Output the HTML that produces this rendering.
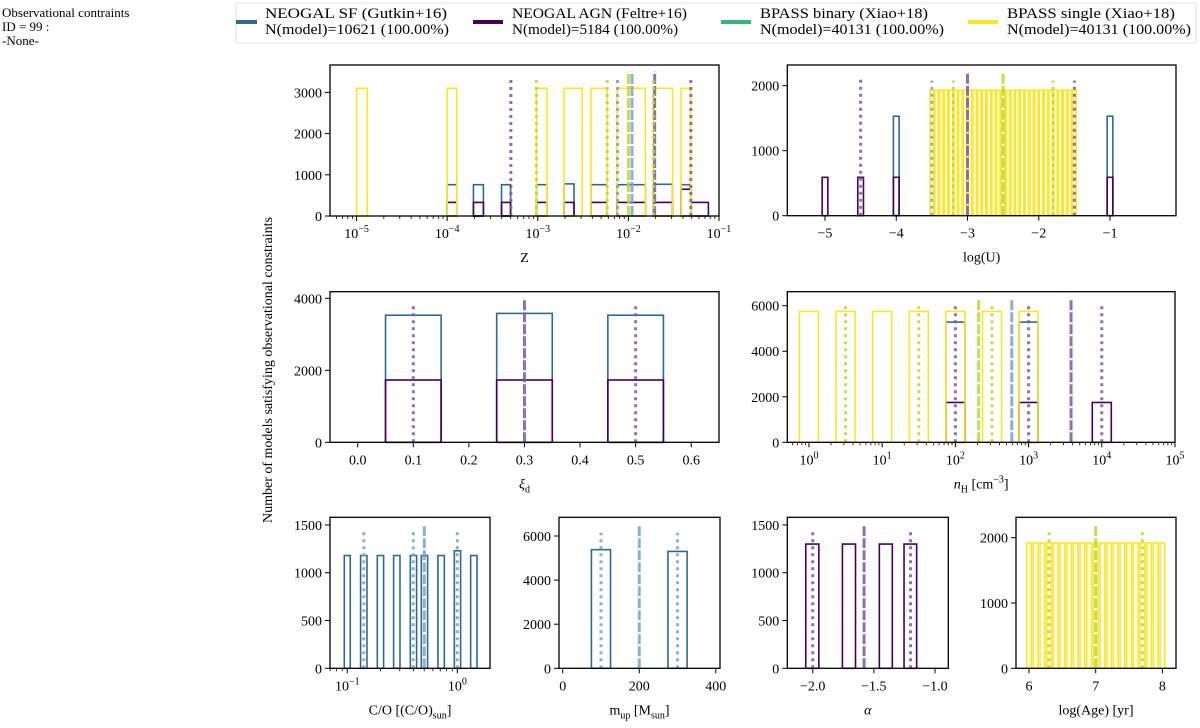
<!DOCTYPE html>
<html><head><meta charset="utf-8"><style>
body{margin:0;background:#fff;}
svg{display:block;font-family:"Liberation Serif",serif;}
</style></head><body>
<svg id="fig" width="1200" height="728" viewBox="0 0 1200 728">
<g font-size="13">
<text x="2" y="17">Observational contraints</text>
<text x="2" y="31">ID = 99 :</text>
<text x="2" y="45">-None-</text>
</g>
<g font-size="14.5">
<rect x="236" y="3" width="960" height="40" fill="#fff" stroke="#e0e0e0"/>
<g><rect x="236" y="20" width="21" height="4" fill="#31688e"/><text x="265" y="18" textLength="182" lengthAdjust="spacingAndGlyphs">NEOGAL SF (Gutkin+16)</text><text x="265" y="34" textLength="184" lengthAdjust="spacingAndGlyphs">N(model)=10621 (100.00%)</text></g>
<g><rect x="473" y="20" width="30" height="4" fill="#440154"/><text x="512" y="18" textLength="175" lengthAdjust="spacingAndGlyphs">NEOGAL AGN (Feltre+16)</text><text x="512" y="34" textLength="166" lengthAdjust="spacingAndGlyphs">N(model)=5184 (100.00%)</text></g>
<g><rect x="721" y="20" width="30" height="4" fill="#35b779"/><text x="760" y="18" textLength="168" lengthAdjust="spacingAndGlyphs">BPASS binary (Xiao+18)</text><text x="760" y="34" textLength="184" lengthAdjust="spacingAndGlyphs">N(model)=40131 (100.00%)</text></g>
<g><rect x="968" y="20" width="30" height="4" fill="#fde725"/><text x="1007" y="18" textLength="168" lengthAdjust="spacingAndGlyphs">BPASS single (Xiao+18)</text><text x="1007" y="34" textLength="184" lengthAdjust="spacingAndGlyphs">N(model)=40131 (100.00%)</text></g>
</g>
<text transform="translate(272,370) rotate(-90)" text-anchor="middle" font-size="14">Number of models satisfying observational constraints</text>
</svg>
<script>
// ---- data arrays (x edges in data units; log10 for log axes) ----
const zSingleEdges=[[-5,-4.883],[-4,-3.894],[-3.015,-2.90],[-2.71,-2.51],[-2.414,-2.234],[-2.125,-1.813],[-1.722,-1.513],[-1.418,-1.311]];
const zSingleH=[3100,3100,3100,3100,3100,3100,3100,3100];
const zSfEdges=[[-4,-3.894],[-3.71,-3.60],[-3.40,-3.30],[-3.015,-2.90],[-2.71,-2.60],[-2.414,-2.234],[-2.125,-1.813],[-1.722,-1.513],[-1.418,-1.311]];
const zSfH=[760,760,760,760,780,760,760,770,760];
const zAgnEdges=[[-4,-3.894],[-3.71,-3.60],[-3.40,-3.30],[-3.015,-2.90],[-2.71,-2.60],[-2.414,-2.234],[-2.125,-1.813],[-1.722,-1.513],[-1.418,-1.311],[-1.311,-1.117]];
const zAgnH=[330,330,330,330,330,330,330,330,650,330];
const zLinesX=[-3.297,-3.015,-2.234,-2.12,-2.0,-1.96,-1.71,-1.722,-1.311];
const zLinesTop=[3350,3350,3350,3350,3500,3500,3500,3350,3350];
const zLinesKind=['ad','bd','bd','sd','b-','s-','a-','bd','ad'];

const uAgnEdges=[[-5.04,-4.96],[-4.54,-4.46],[-4.04,-3.96],[-1.04,-0.96]];
const uAgnH=[590,590,590,590];
const uSfEdges=[[-4.04,-3.96],[-1.04,-0.96]];
const uSfH=[1530,1530];
const uSingleCenters=[-3.5,-3.433,-3.367,-3.3,-3.233,-3.167,-3.1,-3.033,-2.967,-2.9,-2.833,-2.767,-2.7,-2.633,-2.567,-2.5,-2.433,-2.367,-2.3,-2.233,-2.167,-2.1,-2.033,-1.967,-1.9,-1.833,-1.767,-1.7,-1.633,-1.567,-1.5];
const uSingleH=uSingleCenters.map(()=>1930);
const uLinesX=[-4.5,-3.5,-3.2,-3.0,-2.5,-1.8,-1.5];
const uLinesTop=[2100,2080,2080,2200,2200,2080,2080];
const uLinesKind=['ad','sd','bd','a-','b-','bd','ad'];

const xiEdges=[[0.05,0.15],[0.25,0.35],[0.45,0.55]];
const xiSfH=[3530,3580,3530];
const xiAgnH=[1730,1730,1730];
const xiLinesX=[0.1,0.3,0.5];
const xiLinesTop=[3800,4000,3800];
const xiLinesKind=['ad','a-','ad'];

const nhSingleCenters=[0,0.5,1,1.5,2,2.5,3];
const nhSingleH=[5750,5750,5750,5750,5750,5750,5750];
const nhSfCenters=[2,3];
const nhSfH=[5280,5280];
const nhAgnCenters=[2,3,4];
const nhAgnH=[1750,1750,1750];
const nhLinesX=[0.5,1.5,2.5,2,3,4,2.318,2.77,3.58];
const nhLinesTop=[6000,6000,6000,6000,6000,6000,6300,6300,6300];
const nhLinesKind=['bd','bd','bd','ad','ad','ad','b-','s-','a-'];

const coEdges=[[-1.027,-0.973],[-0.879,-0.821],[-0.727,-0.670],[-0.579,-0.521],[-0.427,-0.370],[-0.327,-0.270],[-0.176,-0.118],[-0.027,0.030],[0.121,0.179]];
const coSfH=[1180,1180,1180,1180,1180,1180,1180,1230,1180];
const coLinesX=[-0.85,-0.4,0.0,-0.3];
const coLinesTop=[1430,1430,1430,1500];
const coLinesKind=['sd','sd','sd','s-'];

const mupEdges=[[75,125],[275,325]];
const mupSfH=[5380,5300];
const mupLinesX=[100,300,200];
const mupLinesTop=[6150,6150,6500];
const mupLinesKind=['sd','sd','s-'];

const alphaEdges=[[-2.057,-1.95],[-1.757,-1.65],[-1.455,-1.349],[-1.253,-1.15]];
const alphaAgnH=[1300,1300,1300,1300];
const alphaLinesX=[-2.0,-1.2,-1.58];
const alphaLinesTop=[1430,1430,1500];
const alphaLinesKind=['ad','ad','a-'];

const ageCenters=[6,6.1,6.2,6.3,6.4,6.5,6.6,6.7,6.8,6.9,7,7.1,7.2,7.3,7.4,7.5,7.6,7.7,7.8,7.9,8];
const ageSingleH=ageCenters.map(()=>1920);
const ageLinesX=[6.3,7.7,7.0];
const ageLinesTop=[2100,2100,2200];
const ageLinesKind=['bd','bd','b-'];

// ---- drawing ----
const NS='http://www.w3.org/2000/svg';
const svg=document.getElementById('fig');
const COL={s:'#31688e',a:'#440154',b:'#35b779',y:'#fde725'};
const LCOL={s:'#7ea1c0',a:'#7a5a9c',b:'#b5d83a'};
function mk(tag,attrs,parent){const e=document.createElementNS(NS,tag);for(const k in attrs)e.setAttribute(k,attrs[k]);(parent||svg).appendChild(e);return e;}
function cen(cs,hw){return cs.map(c=>[c-hw,c+hw]);}

function panel(P){
  const g=mk('g',{});
  
  
  const sx=v=>P.x0+(v-P.xmin)/(P.xmax-P.xmin)*(P.x1-P.x0);
  const sy=v=>P.y1-v/P.ymax*(P.y1-P.y0);
  P.series.forEach(s=>{
    const sg=mk('g',{},g);
    
    
    s.edges.forEach((e,i)=>{
      const x=sx(e[0]),w=sx(e[1])-sx(e[0]),y=sy(s.h[i]);
      const r=mk('rect',{x:x,y:y,width:w,height:P.y1-y,fill:'none',stroke:COL[s.id],'stroke-width':1.6},sg);
      
      
    });
  });
  P.lx.forEach((v,i)=>{
    const k=P.lk[i];const dashed=k[1]==='-';
    const l=mk('line',{x1:sx(v),x2:sx(v),y1:P.y1,y2:sy(P.lt[i]),stroke:LCOL[k[0]],'stroke-width':3,'stroke-opacity':0.85,'stroke-dasharray':dashed?'10,2':'3,4'},g);
    
    
  });
  const f=mk('rect',{x:P.x0,y:P.y0,width:P.x1-P.x0,height:P.y1-P.y0,fill:'none',stroke:'#000','stroke-width':1.3},g);
  
  
  const xa=mk('g',{},g);
  
  
  P.xt.forEach((v,i)=>{
    const x=sx(v);
    mk('line',{x1:x,x2:x,y1:P.y1,y2:P.y1+5,stroke:'#000','stroke-width':1},xa);
    const t=mk('text',{x:x,y:P.y1+22,'text-anchor':'middle','font-size':14},xa);
    if(P.log){t.textContent='10';const sp=mk('tspan',{dy:-6,'font-size':10},t);sp.textContent=P.xtl[i];}
    else t.textContent=P.xtl[i];
  });
  if(P.log){
    for(let d=Math.floor(P.xmin);d<Math.ceil(P.xmax);d++){
      for(let m=2;m<10;m++){const v=d+Math.log10(m);if(v>P.xmin&&v<P.xmax){const x=sx(v);mk('line',{x1:x,x2:x,y1:P.y1,y2:P.y1+3,stroke:'#000','stroke-width':0.8},xa);}}
    }
  }
  const xl=mk('text',{x:(P.x0+P.x1)/2,y:P.y1+46,'text-anchor':'middle','font-size':14},g);
  xl.innerHTML=P.xlabel;
  
  
  const ya=mk('g',{},g);
  
  
  P.yt.forEach(v=>{
    const y=sy(v);
    mk('line',{x1:P.x0-5,x2:P.x0,y1:y,y2:y,stroke:'#000','stroke-width':1},ya);
    const t=mk('text',{x:P.x0-8,y:y+5,'text-anchor':'end','font-size':14},ya);t.textContent=v;
  });
}

panel({name:'z',x0:330,x1:719,y0:65,y1:216,xmin:-5.293,xmax:-1,ymax:3665,log:true,
  xt:[-5,-4,-3,-2,-1],xtl:['\u22125','\u22124','\u22123','\u22122','\u22121'],yt:[0,1000,2000,3000],xlabel:'Z',
  series:[{id:'s',edges:zSfEdges,h:zSfH},{id:'a',edges:zAgnEdges,h:zAgnH},{id:'y',edges:zSingleEdges,h:zSingleH}],
  lx:zLinesX,lt:zLinesTop,lk:zLinesKind});
panel({name:'logu',x0:787.3,x1:1176,y0:65,y1:215.7,xmin:-5.529,xmax:-0.074,ymax:2318,log:false,
  xt:[-5,-4,-3,-2,-1],xtl:['\u22125','\u22124','\u22123','\u22122','\u22121'],yt:[0,1000,2000],xlabel:'log(U)',
  series:[{id:'s',edges:uSfEdges,h:uSfH},{id:'a',edges:uAgnEdges,h:uAgnH},{id:'y',edges:cen(uSingleCenters,0.024),h:uSingleH}],
  lx:uLinesX,lt:uLinesTop,lk:uLinesKind});
panel({name:'xi',x0:330,x1:719,y0:291.7,y1:442.3,xmin:-0.0499,xmax:0.650,ymax:4183,log:false,
  xt:[0,0.1,0.2,0.3,0.4,0.5,0.6],xtl:['0.0','0.1','0.2','0.3','0.4','0.5','0.6'],yt:[0,2000,4000],xlabel:'<tspan font-style="italic">ξ</tspan><tspan font-size="10" dy="4">d</tspan>',
  series:[{id:'s',edges:xiEdges,h:xiSfH},{id:'a',edges:xiEdges,h:xiAgnH}],
  lx:xiLinesX,lt:xiLinesTop,lk:xiLinesKind});
panel({name:'nh',x0:787.3,x1:1175,y0:291.7,y1:442.3,xmin:-0.296,xmax:5,ymax:6615,log:true,
  xt:[0,1,2,3,4,5],xtl:['0','1','2','3','4','5'],yt:[0,2000,4000,6000],xlabel:'<tspan font-style="italic">n</tspan><tspan font-size="10" dy="4">H</tspan><tspan dy="-4"> [cm</tspan><tspan font-size="10" dy="-6">−3</tspan><tspan dy="6">]</tspan>',
  series:[{id:'s',edges:cen(nhSfCenters,0.13),h:nhSfH},{id:'a',edges:cen(nhAgnCenters,0.13),h:nhAgnH},{id:'y',edges:cen(nhSingleCenters,0.13),h:nhSingleH}],
  lx:nhLinesX,lt:nhLinesTop,lk:nhLinesKind});
panel({name:'co',x0:330,x1:490,y0:517.3,y1:668.3,xmin:-1.157,xmax:0.297,ymax:1580,log:true,
  xt:[-1,0],xtl:['\u22121','0'],yt:[0,500,1000,1500],xlabel:'C/O [(C/O)<tspan font-size="10" dy="4">sun</tspan><tspan dy="-4">]</tspan>',
  series:[{id:'s',edges:coEdges,h:coSfH}],
  lx:coLinesX,lt:coLinesTop,lk:coLinesKind});
panel({name:'mup',x0:559,x1:720,y0:517.3,y1:668.3,xmin:-9.7,xmax:411,ymax:6848,log:false,
  xt:[0,200,400],xtl:['0','200','400'],yt:[0,2000,4000,6000],xlabel:'m<tspan font-size="10" dy="4">up</tspan><tspan dy="-4"> [M</tspan><tspan font-size="10" dy="4">sun</tspan><tspan dy="-4">]</tspan>',
  series:[{id:'s',edges:mupEdges,h:mupSfH}],
  lx:mupLinesX,lt:mupLinesTop,lk:mupLinesKind});
panel({name:'alpha',x0:787.3,x1:948.3,y0:517.3,y1:668.3,xmin:-2.208,xmax:-0.891,ymax:1580,log:false,
  xt:[-2,-1.5,-1],xtl:['\u22122.0','\u22121.5','\u22121.0'],yt:[0,500,1000,1500],xlabel:'<tspan font-style="italic">α</tspan>',
  series:[{id:'a',edges:alphaEdges,h:alphaAgnH}],
  lx:alphaLinesX,lt:alphaLinesTop,lk:alphaLinesKind});
panel({name:'age',x0:1016,x1:1176,y0:517.3,y1:668.3,xmin:5.805,xmax:8.204,ymax:2312,log:false,
  xt:[6,7,8],xtl:['6','7','8'],yt:[0,1000,2000],xlabel:'log(Age) [yr]',
  series:[{id:'y',edges:cen(ageCenters,0.035),h:ageSingleH}],
  lx:ageLinesX,lt:ageLinesTop,lk:ageLinesKind});
</script>
</body></html>
